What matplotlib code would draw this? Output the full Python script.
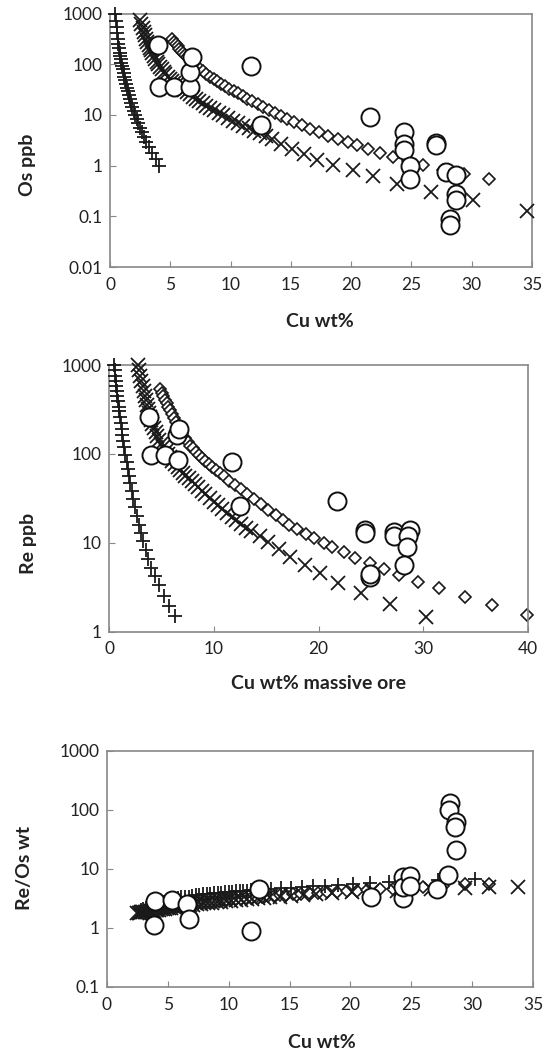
import matplotlib
matplotlib.use('Agg')
import matplotlib.pyplot as plt
from matplotlib.ticker import NullLocator

plt.rcParams['font.family'] = ['Lato', 'DejaVu Sans']

# ---------------- Os ppb vs Cu wt% ----------------
os_plus_cu = [0.45, 0.5, 0.55, 0.6, 0.65, 0.7, 0.75, 0.8, 0.85, 0.9, 0.95, 1.0, 1.06, 1.12,
              1.18, 1.25, 1.32, 1.4, 1.48, 1.56, 1.65, 1.75, 1.85, 1.96, 2.08, 2.2, 2.34,
              2.48, 2.64, 2.82, 3.02, 3.24, 3.5, 3.78, 4.05]
os_plus = [1000, 720, 540, 410, 320, 255, 205, 168, 145, 125, 108, 93, 79, 67,
           57, 48, 41, 34, 29, 24.5, 20.5, 17, 14.3, 12, 10, 8.3, 6.8,
           5.6, 4.5, 3.6, 2.9, 2.3, 1.75, 1.35, 1.0]

os_cross_cu = [2.5, 2.6, 2.7, 2.8, 2.9, 3.0, 3.1, 3.2, 3.3, 3.4, 3.5, 3.62, 3.75, 3.88, 4.0,
               4.15, 4.3, 4.45, 4.6, 4.78, 4.95, 5.12, 5.3, 5.5, 5.7, 5.9, 6.1, 6.35, 6.6,
               6.85, 7.1, 7.4, 7.7, 8.0, 8.3, 8.65, 9.0, 9.4, 9.8, 10.2, 10.6, 11.05, 11.5,
               11.95, 12.4, 12.9, 13.4, 14.2, 15.1, 16.1, 17.2, 18.5, 20.15, 21.8, 23.8,
               26.6, 30.1, 34.6]
os_cross = [740, 620, 520, 440, 375, 320, 278, 242, 212, 188, 167, 146, 128, 113, 101,
            89, 79, 71, 64, 57, 51, 47, 43, 39, 36, 33, 30.5, 28, 25.5,
            23, 21, 19, 17, 15.3, 13.8, 12.3, 11, 9.8, 8.7, 7.7, 6.9, 6.1, 5.4,
            4.8, 4.3, 3.8, 3.3, 2.7, 2.1, 1.68, 1.31, 1.05, 0.81, 0.62, 0.44,
            0.30, 0.21, 0.127]

os_diam_cu = [5.15, 5.3, 5.45, 5.6, 5.75, 5.9, 6.05, 6.2, 6.4, 6.6, 6.8, 7.0, 7.25, 7.5,
              7.75, 8.0, 8.3, 8.6, 8.9, 9.2, 9.55, 9.9, 10.25, 10.6, 11.0, 11.4, 11.8,
              12.25, 12.7, 13.2, 13.7, 14.2, 14.7, 15.3, 15.9, 16.6, 17.35, 18.1, 18.9,
              19.7, 20.5, 21.4, 22.4, 23.5, 24.7, 26.0, 27.6, 29.4, 31.4]
os_diam = [316, 280, 250, 225, 203, 185, 168, 154, 138, 124, 112, 101, 90, 80,
           72, 64, 57, 51, 46, 41, 37, 33, 29.5, 26.5, 23.5, 21, 18.8,
           16.6, 14.6, 12.7, 11, 9.6, 8.4, 7.2, 6.2, 5.3, 4.5, 3.9, 3.35,
           2.9, 2.5, 2.1, 1.8, 1.5, 1.25, 1.02, 0.83, 0.68, 0.54]

os_data_cu = [3.97, 4.06, 5.3, 6.6, 6.6, 6.8, 11.7, 12.5, 21.6, 24.35, 24.35, 24.35, 24.85,
              24.85, 27.06, 27.06, 27.9, 28.7, 28.7, 28.7, 28.2, 28.2]
os_data = [237, 35, 35, 35, 70, 140, 91, 6.3, 8.9, 4.6, 2.7, 2.0, 1.0,
           0.55, 2.8, 2.5, 0.75, 0.65, 0.28, 0.21, 0.089, 0.066]

# ---------------- Re ppb vs Cu wt% massive ore ----------------
re_plus_cu = [0.5, 0.55, 0.6, 0.65, 0.7, 0.75, 0.8, 0.86, 0.92, 0.98, 1.05, 1.12, 1.2, 1.28,
              1.37, 1.46, 1.56, 1.67, 1.78, 1.9, 2.03, 2.17, 2.32, 2.48, 2.65, 2.84, 3.04,
              3.26, 3.5, 3.76, 4.05, 4.4, 4.8, 5.25, 5.75, 6.3]
re_plus = [1000, 870, 760, 660, 580, 510, 450, 390, 340, 300, 260, 225, 190, 165,
           140, 118, 98, 82, 68, 57, 47, 38, 31, 25, 20, 16, 13,
           10.5, 8.2, 6.6, 5.2, 4.2, 3.3, 2.5, 1.95, 1.5]

re_cross_cu = [2.8, 2.9, 3.0, 3.1, 3.2, 3.3, 3.4, 3.5, 3.6, 3.7, 3.8, 3.9, 4.0, 4.15, 4.3,
               4.45, 4.6, 4.8, 5.0, 5.2, 5.4, 5.6, 5.8, 6.05, 6.3, 6.55, 6.8, 7.05, 7.3,
               7.6, 7.9, 8.2, 8.5, 8.85, 9.2, 9.6, 10.0, 10.4, 10.8, 11.25, 11.7, 12.15,
               12.6, 13.1, 13.6, 14.4, 15.2, 16.2, 17.3, 18.7, 20.1, 21.9, 24.1, 26.8, 30.3]
re_cross = [1000, 870, 760, 660, 580, 510, 450, 400, 355, 320, 290, 262, 240, 215, 193,
            175, 160, 143, 130, 119, 109, 100, 92, 84, 77, 71, 66, 61, 57,
            53, 49, 45.5, 42, 38.5, 35.5, 32, 29, 26.5, 24, 21.5, 19.5, 17.8,
            16.2, 14.7, 13.5, 11.8, 10.2, 8.4, 6.9, 5.6, 4.5, 3.55, 2.7, 2.03, 1.44]

re_diam_cu = [4.9, 5.05, 5.2, 5.35, 5.5, 5.65, 5.8, 6.0, 6.2, 6.4, 6.6, 6.8, 7.0, 7.25,
              7.5, 7.75, 8.0, 8.3, 8.6, 8.9, 9.2, 9.5, 9.8, 10.2, 10.6, 11.0, 11.5, 12.0,
              12.6, 13.2, 13.8, 14.5, 15.2, 15.9, 16.6, 17.2, 17.9, 18.8, 19.6, 20.5,
              21.3, 22.4, 23.5, 24.9, 26.25, 27.7, 29.5, 31.5, 33.95, 36.6, 39.9]
re_diam = [540, 490, 445, 405, 370, 340, 312, 280, 252, 228, 206, 187, 170, 152,
           137, 124, 116, 106, 98, 90, 83, 77, 72, 66, 61, 56, 50, 45,
           40, 35, 31, 27, 23.5, 20.3, 18, 15.8, 14.4, 12.6, 11.2, 10,
           8.9, 7.9, 6.8, 5.9, 5.0, 4.3, 3.6, 3.06, 2.45, 2.0, 1.55]

re_data_cu = [3.77, 4.0, 5.37, 6.55, 6.49, 6.66, 11.75, 12.5, 21.77, 24.4, 24.4, 27.2, 27.2,
              28.7, 28.5, 28.4, 28.2, 24.9, 24.9]
re_data = [257, 96, 98, 85, 164, 190, 81, 26, 29.5, 13.8, 13, 13.3, 12,
           14, 12, 8.9, 5.6, 4.1, 4.4]

# ---------------- Re/Os vs Cu wt% ----------------
ratio_plus_cu = [2.8, 3.0, 3.2, 3.4, 3.6, 3.8, 4.0, 4.3, 4.6, 4.9, 5.2, 5.5, 5.8, 6.1, 6.4,
                 6.7, 7.0, 7.3, 7.6, 7.9, 8.2, 8.5, 8.8, 9.1, 9.4, 9.7, 10.0, 10.3, 10.6,
                 10.9, 11.2, 11.5, 11.8, 12.2, 12.8, 13.5, 14.3, 15.1, 16.0, 16.9, 17.9,
                 19.0, 20.2, 21.6, 23.2, 25.0, 27.2, 30.2]
ratio_plus = [2.0, 2.1, 2.2, 2.3, 2.4, 2.5, 2.6, 2.7, 2.8, 2.9, 3.0, 3.1, 3.2, 3.3, 3.35,
              3.4, 3.5, 3.55, 3.6, 3.7, 3.75, 3.8, 3.85, 3.9, 3.95, 4.0, 4.05, 4.1, 4.15,
              4.2, 4.25, 4.3, 4.35, 4.4, 4.5, 4.6, 4.7, 4.8, 4.95, 5.05, 5.2,
              5.35, 5.5, 5.7, 5.9, 6.1, 6.4, 6.8]

ratio_cross_cu = [2.5, 2.6, 2.7, 2.8, 2.9, 3.0, 3.1, 3.2, 3.3, 3.4, 3.5, 3.62, 3.75, 3.88,
                  4.0, 4.15, 4.3, 4.45, 4.6, 4.78, 4.95, 5.12, 5.3, 5.5, 5.7, 5.9, 6.1,
                  6.35, 6.6, 6.85, 7.1, 7.4, 7.7, 8.0, 8.3, 8.65, 9.0, 9.4, 9.8, 10.2,
                  10.6, 11.05, 11.5, 11.95, 12.4, 12.9, 13.4, 14.2, 15.1, 16.1, 17.2,
                  18.5, 20.15, 21.8, 23.8, 26.6, 29.4, 31.4, 33.75]
ratio_cross = [1.80, 1.81, 1.82, 1.83, 1.84, 1.85, 1.86, 1.87, 1.88, 1.9, 1.91, 1.93, 1.95,
               1.97, 1.99, 2.01, 2.03, 2.06, 2.08, 2.11, 2.14, 2.17, 2.2, 2.23, 2.26, 2.29,
               2.32, 2.36, 2.4, 2.44, 2.48, 2.52, 2.56, 2.6, 2.64, 2.69, 2.74, 2.79, 2.85,
               2.9, 2.95, 3.0, 3.06, 3.12, 3.17, 3.23, 3.29, 3.38, 3.48, 3.6, 3.72,
               3.85, 4.0, 4.15, 4.3, 4.5, 4.7, 4.9, 5.0]

ratio_diam = [2.3, 2.32, 2.34, 2.36, 2.38, 2.4, 2.42, 2.44, 2.47, 2.5, 2.53, 2.56, 2.6, 2.64,
              2.68, 2.72, 2.76, 2.8, 2.85, 2.9, 2.95, 3.0, 3.05, 3.1, 3.15, 3.2, 3.26,
              3.32, 3.38, 3.44, 3.5, 3.56, 3.62, 3.7, 3.77, 3.85, 3.93, 4.0, 4.1,
              4.2, 4.3, 4.4, 4.5, 4.62, 4.75, 4.9, 5.1, 5.6, 5.6]

ratio_data_cu = [3.96, 3.9, 5.32, 6.57, 6.74, 11.8, 12.5, 21.7, 24.3, 24.3, 24.3, 24.9, 24.9,
                 27.1, 28.0, 28.2, 28.1, 28.64, 28.6, 28.64]
ratio_data = [2.9, 1.12, 3.0, 2.5, 1.4, 0.89, 4.5, 3.3, 7.4, 3.2, 4.9, 7.6, 5.1,
              4.5, 7.9, 132, 100, 63, 52, 21]

panels = [
    dict(rect=[0.1986, 0.7469, 0.7617, 0.2403], xmax=35, xticks=[0, 5, 10, 15, 20, 25, 30, 35],
         yticks=[0.01, 0.1, 1, 10, 100, 1000], ylabels=['0.01', '0.1', '1', '10', '100', '1000'],
         plus=(os_plus_cu, os_plus), cross=(os_cross_cu, os_cross), diam=(os_diam_cu, os_diam),
         data=(os_data_cu, os_data), xlabel='Cu wt%', xlab_pos=(0.578, 0.6948),
         ylabel='Os ppb', ylab_pos=(0.049, 0.8436)),
    dict(rect=[0.1968, 0.4014, 0.7563, 0.2526], xmax=40, xticks=[0, 10, 20, 30, 40],
         yticks=[1, 10, 100, 1000], ylabels=['1', '10', '100', '1000'],
         plus=(re_plus_cu, re_plus), cross=(re_cross_cu, re_cross), diam=(re_diam_cu, re_diam),
         data=(re_data_cu, re_data), xlabel='Cu wt% massive ore', xlab_pos=(0.575, 0.3517),
         ylabel='Re ppb', ylab_pos=(0.051, 0.4853)),
    dict(rect=[0.1931, 0.0645, 0.769, 0.2237], xmax=35, xticks=[0, 5, 10, 15, 20, 25, 30, 35],
         yticks=[0.1, 1, 10, 100, 1000], ylabels=['0.1', '1', '10', '100', '1000'],
         plus=(ratio_plus_cu, ratio_plus), cross=(ratio_cross_cu, ratio_cross),
         diam=(os_diam_cu, ratio_diam), data=(ratio_data_cu, ratio_data),
         xlabel='Cu wt%', xlab_pos=(0.581, 0.0123),
         ylabel='Re/Os wt', ylab_pos=(0.045, 0.1773)),
]

fig = plt.figure(figsize=(5.54, 10.55), dpi=100)

for p in panels:
    ax = fig.add_axes(p['rect'])
    ax.set_yscale('log')
    ax.set_xlim(0, p['xmax'])
    ax.set_ylim(p['yticks'][0], p['yticks'][-1])

    ax.plot(*p['diam'], ls='none', marker='D', ms=6.6, mfc='white', mec='#1a1a1a',
            mew=1.2, clip_on=False, zorder=2)
    ax.plot(*p['cross'], ls='none', marker='x', ms=9.5, mec='#1a1a1a', mew=1.3,
            clip_on=False, zorder=3)
    ax.plot(*p['plus'], ls='none', marker='+', ms=9.5, mec='#1a1a1a', mew=1.3,
            clip_on=False, zorder=3)
    ax.plot(*p['data'], ls='none', marker='o', ms=13, mfc='white', mec='#111111',
            mew=1.4, clip_on=False, zorder=5)

    ax.set_xticks(p['xticks'])
    ax.set_yticks(p['yticks'])
    ax.set_yticklabels(p['ylabels'])
    ax.yaxis.set_minor_locator(NullLocator())
    ax.tick_params(direction='in', length=4, color='#888888', labelsize=12.5,
                   labelcolor='#222222')
    ax.tick_params(axis='x', pad=7)
    ax.tick_params(axis='y', pad=5)
    for s in ax.spines.values():
        s.set_color('#888888')
        s.set_linewidth(1.2)

    fig.text(*p['xlab_pos'], p['xlabel'], ha='center', va='center', fontsize=14,
             fontweight='bold', color='#222222')
    fig.text(*p['ylab_pos'], p['ylabel'], ha='center', va='center', fontsize=14,
             fontweight='bold', color='#222222', rotation=90)

fig.savefig('out.png', dpi=100)
